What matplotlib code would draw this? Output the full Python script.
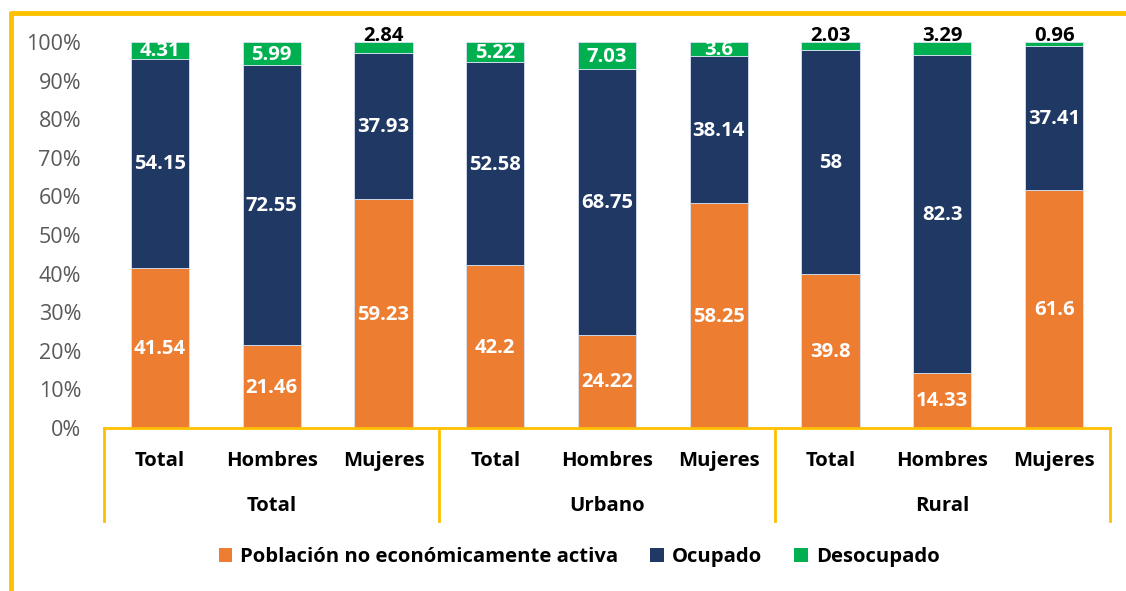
import matplotlib
matplotlib.use("Agg")
import matplotlib.pyplot as plt
from matplotlib.lines import Line2D
from matplotlib.patches import Patch
import numpy as np

plt.rcParams['font.family'] = ['Open Sans', 'DejaVu Sans']

groups = ["Total", "Urbano", "Rural"]
subcats = ["Total", "Hombres", "Mujeres"]
series_names = ["Población no económicamente activa", "Ocupado", "Desocupado"]
pnea = [41.54, 21.46, 59.23, 42.2, 24.22, 58.25, 39.8, 14.33, 61.6]
ocupado = [54.15, 72.55, 37.93, 52.58, 68.75, 38.14, 58, 82.3, 37.41]
desocupado = [4.31, 5.99, 2.84, 5.22, 7.03, 3.6, 2.03, 3.29, 0.96]
yticks = [0, 10, 20, 30, 40, 50, 60, 70, 80, 90, 100]

colors = ["#ED7D31", "#203864", "#00B050"]
GOLD = "#FFC000"
FS = 14.6

W, H = 1126, 591
fig = plt.figure(figsize=(W / 100, H / 100), dpi=100)
ax = fig.add_axes([104 / W, 1 - 428 / H, (1110 - 104) / W, (428 - 42) / H])

data = np.array([pnea, ocupado, desocupado], dtype=float)
totals = data.sum(axis=0)
pct = data / totals * 100
x = np.arange(len(pnea))
bw = 0.52
bottom = np.zeros(len(pnea))
for i in range(3):
    ax.bar(x, pct[i], bw, bottom=bottom, color=colors[i], edgecolor="#D9E1F2",
           linewidth=0.6, label=series_names[i], zorder=2)
    for j in range(len(x)):
        v = data[i][j]
        txt = f"{v:g}"
        if i == 2 and v < 3.5:
            ax.text(x[j], 101.6, txt, ha="center", va="center", fontsize=FS,
                    fontweight="bold", color="black", clip_on=False, zorder=5)
        else:
            ax.text(x[j], bottom[j] + pct[i][j] / 2 - 0.3, txt, ha="center", va="center",
                    fontsize=FS, fontweight="bold", color="white", zorder=5)
    bottom += pct[i]

ax.set_xlim(-0.5, len(x) - 0.5)
ax.set_ylim(0, 100)
ax.set_yticks(yticks)
ax.set_yticklabels([f"{t}%" for t in yticks], fontsize=15.5, color="#595959")
ax.tick_params(axis="y", length=0, pad=16.5)
ax.set_xticks([])
for s in ["top", "right", "left"]:
    ax.spines[s].set_visible(False)
ax.spines["bottom"].set_color(GOLD)
ax.spines["bottom"].set_linewidth(2)

def fy(px):
    return 1 - px / H
for j in range(len(x)):
    fig.text((104 + (j + 0.5) * (1006 / 9)) / W, fy(461), subcats[j % 3], ha="center",
             va="center", fontsize=FS, fontweight="bold", color="black")
for g in range(3):
    fig.text((104 + (g * 3 + 1.5) * (1006 / 9)) / W, fy(506), groups[g], ha="center",
             va="center", fontsize=FS, fontweight="bold", color="black")
for k in range(4):
    xp = -0.5 + 3 * k
    ax.plot([xp, xp], [0, -24.1], color=GOLD, lw=2, clip_on=False, zorder=3)

handles = [Patch(facecolor=c, edgecolor="none") for c in colors]
fig.legend(handles, series_names, loc="center", bbox_to_anchor=(579 / W, fy(557)),
           ncol=3, frameon=False, prop={"size": FS, "weight": "bold"},
           handlelength=0.65, handleheight=0.65, handletextpad=0.4, columnspacing=1.6)

fig.add_artist(Line2D([11 / W, 1.0], [fy(12.5), fy(12.5)], color=GOLD, lw=3.5,
                      transform=fig.transFigure, solid_capstyle="butt"))
fig.add_artist(Line2D([11 / W, 11 / W], [fy(11), 0.0], color=GOLD, lw=3.5,
                      transform=fig.transFigure, solid_capstyle="butt"))

fig.savefig("out.png", dpi=100, facecolor="white")
